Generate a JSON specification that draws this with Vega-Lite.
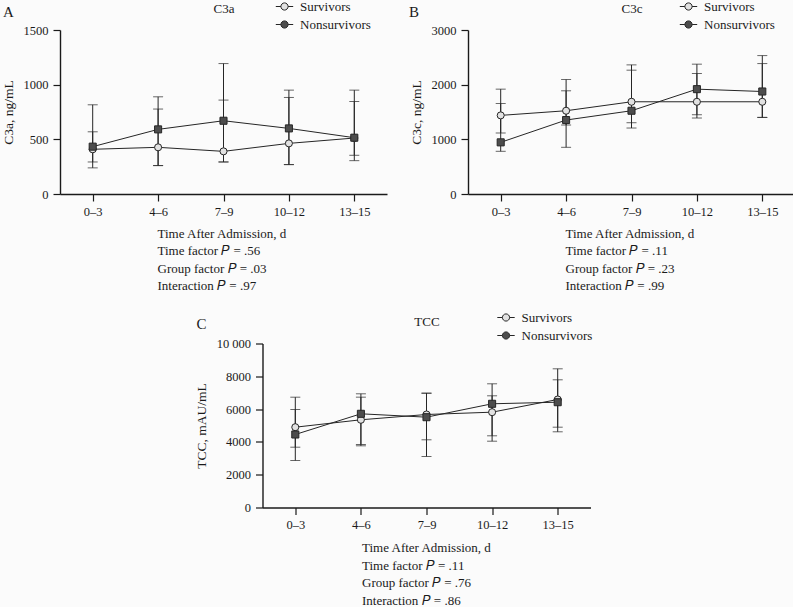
{
  "$schema": "https://vega.github.io/schema/vega-lite/v6.json",
  "padding": {"left": 1, "top": 0, "right": 0, "bottom": 0},
  "background": "#fbfbfb",
  "datasets": {
    "A": [
      {"time": "0–3", "group": "Survivors", "mean": 409, "lo": 239, "hi": 569},
      {"time": "0–3", "group": "Nonsurvivors", "mean": 433, "lo": 293, "hi": 816},
      {"time": "4–6", "group": "Survivors", "mean": 427, "lo": 260, "hi": 777},
      {"time": "4–6", "group": "Nonsurvivors", "mean": 591, "lo": 260, "hi": 889},
      {"time": "7–9", "group": "Survivors", "mean": 390, "lo": 293, "hi": 859},
      {"time": "7–9", "group": "Nonsurvivors", "mean": 670, "lo": 293, "hi": 1193},
      {"time": "10–12", "group": "Survivors", "mean": 463, "lo": 269, "hi": 883},
      {"time": "10–12", "group": "Nonsurvivors", "mean": 600, "lo": 269, "hi": 950},
      {"time": "13–15", "group": "Survivors", "mean": 512, "lo": 305, "hi": 846},
      {"time": "13–15", "group": "Nonsurvivors", "mean": 515, "lo": 354, "hi": 950}
    ],
    "B": [
      {"time": "0–3", "group": "Survivors", "mean": 1438, "lo": 1116, "hi": 1918},
      {"time": "0–3", "group": "Nonsurvivors", "mean": 945, "lo": 781, "hi": 1656},
      {"time": "4–6", "group": "Survivors", "mean": 1523, "lo": 1262, "hi": 1888},
      {"time": "4–6", "group": "Nonsurvivors", "mean": 1353, "lo": 854, "hi": 2094},
      {"time": "7–9", "group": "Survivors", "mean": 1687, "lo": 1304, "hi": 2265},
      {"time": "7–9", "group": "Nonsurvivors", "mean": 1523, "lo": 1207, "hi": 2362},
      {"time": "10–12", "group": "Survivors", "mean": 1687, "lo": 1450, "hi": 2204},
      {"time": "10–12", "group": "Nonsurvivors", "mean": 1918, "lo": 1390, "hi": 2375},
      {"time": "13–15", "group": "Survivors", "mean": 1687, "lo": 1401, "hi": 2386},
      {"time": "13–15", "group": "Nonsurvivors", "mean": 1875, "lo": 1401, "hi": 2532}
    ],
    "C": [
      {"time": "0–3", "group": "Survivors", "mean": 4897, "lo": 3677, "hi": 5976},
      {"time": "0–3", "group": "Nonsurvivors", "mean": 4452, "lo": 2866, "hi": 6726},
      {"time": "4–6", "group": "Survivors", "mean": 5348, "lo": 3762, "hi": 6728},
      {"time": "4–6", "group": "Nonsurvivors", "mean": 5713, "lo": 3842, "hi": 6933},
      {"time": "7–9", "group": "Survivors", "mean": 5671, "lo": 3110, "hi": 6970},
      {"time": "7–9", "group": "Nonsurvivors", "mean": 5507, "lo": 4128, "hi": 6970},
      {"time": "10–12", "group": "Survivors", "mean": 5812, "lo": 4043, "hi": 6811},
      {"time": "10–12", "group": "Nonsurvivors", "mean": 6324, "lo": 4372, "hi": 7543},
      {"time": "13–15", "group": "Survivors", "mean": 6586, "lo": 4897, "hi": 8457},
      {"time": "13–15", "group": "Nonsurvivors", "mean": 6421, "lo": 4616, "hi": 7787}
    ]
  },
  "vconcat": [
    {
      "hconcat": [
        {
          "title": {"text": "A", "dx": -57, "offset": -20},
          "width": 327, "height": 164,
          "data": {"name": "A"},
          "layer": [
            {"mark": {"type": "line", "color": "#262626", "strokeWidth": 1},
             "encoding": {
               "x": {"field": "time", "type": "ordinal", "sort": null, "scale": {"type": "point", "padding": 0.5},
                     "axis": {"orient": "bottom", "titleX": 97, "title": ["Time After Admission, d", "Time factor 𝑃 = .56", "Group factor 𝑃 = .03", "Interaction 𝑃 = .97"]}},
               "y": {"field": "mean", "type": "quantitative", "scale": {"domain": [0, 1500]}, "axis": {"values": [0, 500, 1000, 1500], "labelOverlap": false}, "title": "C3a, ng/mL"},
               "detail": {"field": "group"}}},
            {"mark": {"type": "rule", "color": "#262626", "strokeWidth": 1},
             "encoding": {
               "x": {"field": "time", "type": "ordinal", "sort": null, "axis": {"orient": "top", "title": "C3a", "labels": false, "ticks": false, "domain": false}},
               "y": {"field": "lo", "type": "quantitative", "scale": {"domain": [0, 1500]}, "axis": {"values": [0, 500, 1000, 1500], "labelOverlap": false}, "title": "C3a, ng/mL"},
               "y2": {"field": "hi"}}},
            {"mark": {"type": "tick", "color": "#262626", "size": 10, "thickness": 1},
             "encoding": {
               "x": {"field": "time", "type": "ordinal", "sort": null, "axis": null},
               "y": {"field": "lo", "type": "quantitative", "scale": {"domain": [0, 1500]}, "axis": {"values": [0, 500, 1000, 1500], "labelOverlap": false}, "title": "C3a, ng/mL"}}},
            {"mark": {"type": "tick", "color": "#262626", "size": 10, "thickness": 1},
             "encoding": {
               "x": {"field": "time", "type": "ordinal", "sort": null, "axis": null},
               "y": {"field": "hi", "type": "quantitative", "scale": {"domain": [0, 1500]}, "axis": {"values": [0, 500, 1000, 1500], "labelOverlap": false}, "title": "C3a, ng/mL"}}},
            {"transform": [{"filter": "datum.group === 'Survivors'"}],
             "mark": {"type": "point", "filled": true, "size": 50, "stroke": "#262626", "strokeWidth": 1, "opacity": 1},
             "encoding": {
               "x": {"field": "time", "type": "ordinal", "sort": null, "axis": null},
               "y": {"field": "mean", "type": "quantitative", "scale": {"domain": [0, 1500]}, "axis": {"values": [0, 500, 1000, 1500], "labelOverlap": false}, "title": "C3a, ng/mL"},
               "fill": {"field": "group", "type": "nominal", "scale": {"domain": ["Survivors", "Nonsurvivors"], "range": ["#e2e2e2", "#4d4d4d"]},
                        "legend": {"title": null, "orient": "none", "legendX": 218, "legendY": -30,
                                   "symbolType": "M-1.45,0H-0.6M0.6,0H1.45M-0.6,0A0.6,0.6,0,1,1,0.6,0A0.6,0.6,0,1,1,-0.6,0Z",
                                   "symbolStrokeColor": "#262626", "symbolStrokeWidth": 1}}}},
            {"transform": [{"filter": "datum.group === 'Nonsurvivors'"}],
             "mark": {"type": "point", "shape": "square", "filled": true, "size": 50, "stroke": "#262626", "strokeWidth": 1, "opacity": 1},
             "encoding": {
               "x": {"field": "time", "type": "ordinal", "sort": null, "axis": null},
               "y": {"field": "mean", "type": "quantitative", "scale": {"domain": [0, 1500]}, "axis": {"values": [0, 500, 1000, 1500], "labelOverlap": false}, "title": "C3a, ng/mL"},
               "fill": {"field": "group", "type": "nominal", "scale": {"domain": ["Survivors", "Nonsurvivors"], "range": ["#e2e2e2", "#4d4d4d"]}, "legend": null}}}
          ],
          "resolve": {"axis": {"x": "independent"}}
        },
        {
          "title": {"text": "B", "dx": -59, "offset": -20},
          "width": 327, "height": 164,
          "data": {"name": "B"},
          "layer": [
            {"mark": {"type": "line", "color": "#262626", "strokeWidth": 1},
             "encoding": {
               "x": {"field": "time", "type": "ordinal", "sort": null, "scale": {"type": "point", "padding": 0.5},
                     "axis": {"orient": "bottom", "titleX": 97, "title": ["Time After Admission, d", "Time factor 𝑃 = .11", "Group factor 𝑃 = .23", "Interaction 𝑃 = .99"]}},
               "y": {"field": "mean", "type": "quantitative", "scale": {"domain": [0, 3000]}, "axis": {"values": [0, 1000, 2000, 3000], "labelOverlap": false}, "title": "C3c, ng/mL"},
               "detail": {"field": "group"}}},
            {"mark": {"type": "rule", "color": "#262626", "strokeWidth": 1},
             "encoding": {
               "x": {"field": "time", "type": "ordinal", "sort": null, "axis": {"orient": "top", "title": "C3c", "labels": false, "ticks": false, "domain": false}},
               "y": {"field": "lo", "type": "quantitative", "scale": {"domain": [0, 3000]}, "axis": {"values": [0, 1000, 2000, 3000], "labelOverlap": false}, "title": "C3c, ng/mL"},
               "y2": {"field": "hi"}}},
            {"mark": {"type": "tick", "color": "#262626", "size": 10, "thickness": 1},
             "encoding": {
               "x": {"field": "time", "type": "ordinal", "sort": null, "axis": null},
               "y": {"field": "lo", "type": "quantitative", "scale": {"domain": [0, 3000]}, "axis": {"values": [0, 1000, 2000, 3000], "labelOverlap": false}, "title": "C3c, ng/mL"}}},
            {"mark": {"type": "tick", "color": "#262626", "size": 10, "thickness": 1},
             "encoding": {
               "x": {"field": "time", "type": "ordinal", "sort": null, "axis": null},
               "y": {"field": "hi", "type": "quantitative", "scale": {"domain": [0, 3000]}, "axis": {"values": [0, 1000, 2000, 3000], "labelOverlap": false}, "title": "C3c, ng/mL"}}},
            {"transform": [{"filter": "datum.group === 'Survivors'"}],
             "mark": {"type": "point", "filled": true, "size": 50, "stroke": "#262626", "strokeWidth": 1, "opacity": 1},
             "encoding": {
               "x": {"field": "time", "type": "ordinal", "sort": null, "axis": null},
               "y": {"field": "mean", "type": "quantitative", "scale": {"domain": [0, 3000]}, "axis": {"values": [0, 1000, 2000, 3000], "labelOverlap": false}, "title": "C3c, ng/mL"},
               "fill": {"field": "group", "type": "nominal", "scale": {"domain": ["Survivors", "Nonsurvivors"], "range": ["#e2e2e2", "#4d4d4d"]},
                        "legend": {"title": null, "orient": "none", "legendX": 214, "legendY": -30,
                                   "symbolType": "M-1.45,0H-0.6M0.6,0H1.45M-0.6,0A0.6,0.6,0,1,1,0.6,0A0.6,0.6,0,1,1,-0.6,0Z",
                                   "symbolStrokeColor": "#262626", "symbolStrokeWidth": 1}}}},
            {"transform": [{"filter": "datum.group === 'Nonsurvivors'"}],
             "mark": {"type": "point", "shape": "square", "filled": true, "size": 50, "stroke": "#262626", "strokeWidth": 1, "opacity": 1},
             "encoding": {
               "x": {"field": "time", "type": "ordinal", "sort": null, "axis": null},
               "y": {"field": "mean", "type": "quantitative", "scale": {"domain": [0, 3000]}, "axis": {"values": [0, 1000, 2000, 3000], "labelOverlap": false}, "title": "C3c, ng/mL"},
               "fill": {"field": "group", "type": "nominal", "scale": {"domain": ["Survivors", "Nonsurvivors"], "range": ["#e2e2e2", "#4d4d4d"]}, "legend": null}}}
          ],
          "resolve": {"axis": {"x": "independent"}}
        }
      ],
      "spacing": 81,
      "bounds": "flush",
      "resolve": {"scale": {"x": "independent", "y": "independent", "fill": "independent", "shape": "independent"}}
    },
    {
      "title": {"text": "C", "dx": -66, "offset": -21},
      "width": 328, "height": 164,
      "data": {"name": "C"},
      "layer": [
        {"mark": {"type": "line", "color": "#262626", "strokeWidth": 1},
         "encoding": {
           "x": {"field": "time", "type": "ordinal", "sort": null, "scale": {"type": "point", "padding": 0.5},
                 "axis": {"orient": "bottom", "titleX": 99, "titleY": 34, "titleLineHeight": 17.5, "title": ["Time After Admission, d", "Time factor 𝑃 = .11", "Group factor 𝑃 = .76", "Interaction 𝑃 = .86"]}},
           "y": {"field": "mean", "type": "quantitative", "scale": {"domain": [0, 10000]}, "axis": {"values": [0, 2000, 4000, 6000, 8000, 10000], "labelOverlap": false}, "title": "TCC, mAU/mL"},
           "detail": {"field": "group"}}},
        {"mark": {"type": "rule", "color": "#262626", "strokeWidth": 1},
         "encoding": {
           "x": {"field": "time", "type": "ordinal", "sort": null, "axis": {"orient": "top", "title": "TCC", "labels": false, "ticks": false, "domain": false}},
           "y": {"field": "lo", "type": "quantitative", "scale": {"domain": [0, 10000]}, "axis": {"values": [0, 2000, 4000, 6000, 8000, 10000], "labelOverlap": false}, "title": "TCC, mAU/mL"},
           "y2": {"field": "hi"}}},
        {"mark": {"type": "tick", "color": "#262626", "size": 10, "thickness": 1},
         "encoding": {
           "x": {"field": "time", "type": "ordinal", "sort": null, "axis": null},
           "y": {"field": "lo", "type": "quantitative", "scale": {"domain": [0, 10000]}, "axis": {"values": [0, 2000, 4000, 6000, 8000, 10000], "labelOverlap": false}, "title": "TCC, mAU/mL"}}},
        {"mark": {"type": "tick", "color": "#262626", "size": 10, "thickness": 1},
         "encoding": {
           "x": {"field": "time", "type": "ordinal", "sort": null, "axis": null},
           "y": {"field": "hi", "type": "quantitative", "scale": {"domain": [0, 10000]}, "axis": {"values": [0, 2000, 4000, 6000, 8000, 10000], "labelOverlap": false}, "title": "TCC, mAU/mL"}}},
        {"transform": [{"filter": "datum.group === 'Survivors'"}],
         "mark": {"type": "point", "filled": true, "size": 50, "stroke": "#262626", "strokeWidth": 1, "opacity": 1},
         "encoding": {
           "x": {"field": "time", "type": "ordinal", "sort": null, "axis": null},
           "y": {"field": "mean", "type": "quantitative", "scale": {"domain": [0, 10000]}, "axis": {"values": [0, 2000, 4000, 6000, 8000, 10000], "labelOverlap": false}, "title": "TCC, mAU/mL"},
           "fill": {"field": "group", "type": "nominal", "scale": {"domain": ["Survivors", "Nonsurvivors"], "range": ["#e2e2e2", "#4d4d4d"]},
                    "legend": {"title": null, "orient": "none", "legendX": 237, "legendY": -32.5,
                               "symbolType": "M-1.45,0H-0.6M0.6,0H1.45M-0.6,0A0.6,0.6,0,1,1,0.6,0A0.6,0.6,0,1,1,-0.6,0Z",
                               "symbolStrokeColor": "#262626", "symbolStrokeWidth": 1}}}},
        {"transform": [{"filter": "datum.group === 'Nonsurvivors'"}],
         "mark": {"type": "point", "shape": "square", "filled": true, "size": 50, "stroke": "#262626", "strokeWidth": 1, "opacity": 1},
         "encoding": {
           "x": {"field": "time", "type": "ordinal", "sort": null, "axis": null},
           "y": {"field": "mean", "type": "quantitative", "scale": {"domain": [0, 10000]}, "axis": {"values": [0, 2000, 4000, 6000, 8000, 10000], "labelOverlap": false}, "title": "TCC, mAU/mL"},
           "fill": {"field": "group", "type": "nominal", "scale": {"domain": ["Survivors", "Nonsurvivors"], "range": ["#e2e2e2", "#4d4d4d"]}, "legend": null}}}
      ],
      "resolve": {"axis": {"x": "independent"}}
    }
  ],
  "spacing": 17.5,
  "center": true,
  "resolve": {"scale": {"x": "independent", "y": "independent", "fill": "independent", "shape": "independent"}},
  "config": {
    "font": "Liberation Serif",
    "view": {"stroke": null},
    "axis": {"labelFont": "Liberation Serif", "titleFont": "Liberation Serif", "labelFontSize": 12.5, "titleFontSize": 13, "titleFontWeight": "normal", "labelColor": "#1a1a1a", "titleColor": "#1a1a1a", "domainColor": "#1a1a1a", "tickColor": "#1a1a1a", "domainWidth": 1.4, "tickWidth": 1.2, "grid": false, "tickSize": 7},
    "axisX": {"labelAngle": 0, "labelPadding": 4},
    "axisBottom": {"titleAlign": "left", "titleAnchor": "start", "titleBaseline": "top", "titleY": 33, "titleLineHeight": 17.5},
    "axisTop": {"titlePadding": 15, "titleFontSize": 13},
    "axisY": {"labelPadding": 5, "titlePadding": 8, "titleFontSize": 13.5, "labelOverlap": false, "labelExpr": "datum.value >= 10000 ? '10 000' : format(datum.value, 'd')"},
    "title": {"font": "Liberation Serif", "fontWeight": "normal", "fontSize": 15, "color": "#1a1a1a", "anchor": "start", "frame": "group"},
    "legend": {"labelFont": "Liberation Serif", "labelFontSize": 13, "labelColor": "#1a1a1a", "symbolSize": 144, "rowPadding": 4, "padding": 0, "labelOffset": 9}
  }
}
